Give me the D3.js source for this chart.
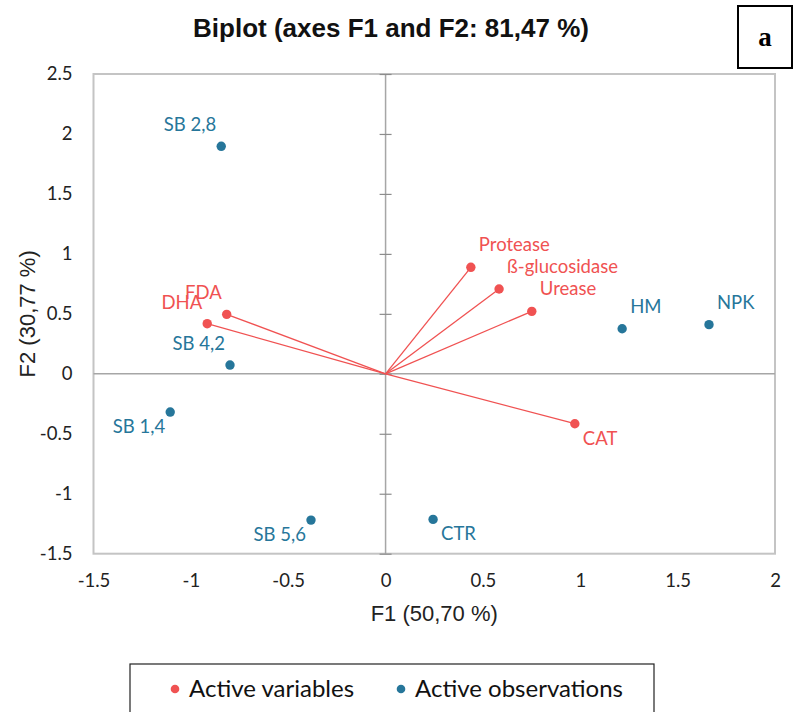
<!DOCTYPE html>
<html>
<head>
<meta charset="utf-8">
<script src="https://cdn.jsdelivr.net/npm/d3@7"></script>
<style>
  html, body { margin: 0; padding: 0; background: #fff; }
  svg { display: block; }
</style>
</head>
<body>
<svg id="chart" width="794" height="712"></svg>
<script>
// PCA biplot: enzyme activities (variables) and fertiliser treatments (observations)
const variableNames = ["Protease", "ß-glucosidase", "Urease", "CAT", "FDA", "DHA"];
const variableF1 = [0.438, 0.583, 0.751, 0.972, -0.816, -0.916];
const variableF2 = [0.888, 0.707, 0.521, -0.416, 0.496, 0.418];

const observationNames = ["SB 2,8", "SB 4,2", "SB 1,4", "SB 5,6", "CTR", "HM", "NPK"];
const observationF1 = [-0.844, -0.799, -1.106, -0.383, 0.244, 1.215, 1.661];
const observationF2 = [1.897, 0.073, -0.319, -1.220, -1.214, 0.376, 0.410];

const xTicks = [-1.5, -1, -0.5, 0, 0.5, 1, 1.5, 2];
const yTicks = [-1.5, -1, -0.5, 0, 0.5, 1, 1.5, 2, 2.5];
const xTickLabels = ["-1.5", "-1", "-0.5", "0", "0.5", "1", "1.5", "2"];
const yTickLabels = ["-1.5", "-1", "-0.5", "0", "0.5", "1", "1.5", "2", "2.5"];

const chartTitle = "Biplot (axes F1 and F2: 81,47 %)";
const xTitle = "F1 (50,70 %)";
const yTitle = "F2 (30,77 %)";
const panelLetter = "a";
const legendLabels = ["Active variables", "Active observations"];

// label placement around each point: ne / nw / se / sw
const variablePlacement = ["ne", "ne", "ne", "se", "nw", "nw"];
const observationPlacement = ["nw", "nw", "sw", "sw", "se", "ne", "ne"];

const RED = "#f05252";
const BLUE = "#26769a";
const LABEL_FONT = "Lato, 'Open Sans', sans-serif";
const TITLE_FONT = "'Liberation Sans', Arial, sans-serif";

const svg = d3.select("#chart");
const plot = { left: 93.5, right: 775, top: 74, bottom: 553.7 };

const x = d3.scaleLinear().domain([-1.5, 2]).range([plot.left, plot.right]);
const y = d3.scaleLinear().domain([-1.5, 2.5]).range([plot.bottom, plot.top]);

// plot frame
svg.append("rect")
  .attr("x", plot.left).attr("y", plot.top)
  .attr("width", plot.right - plot.left).attr("height", plot.bottom - plot.top)
  .attr("fill", "none").attr("stroke", "#c4c4c4").attr("stroke-width", 2);

// zero lines
svg.append("line")
  .attr("x1", plot.left).attr("x2", plot.right)
  .attr("y1", y(0)).attr("y2", y(0))
  .attr("stroke", "#a6a6a6").attr("stroke-width", 1.5);
svg.append("line")
  .attr("x1", x(0)).attr("x2", x(0))
  .attr("y1", plot.top).attr("y2", plot.bottom)
  .attr("stroke", "#a6a6a6").attr("stroke-width", 1.5);

// tick marks crossing the vertical zero line
const crossTicks = svg.append("g")
  .attr("transform", `translate(${x(0) - 6},0)`)
  .call(d3.axisRight(y).tickValues(yTicks).tickSize(12).tickFormat(""));
crossTicks.select(".domain").remove();
crossTicks.selectAll(".tick line").attr("stroke", "#8c8c8c").attr("stroke-width", 1.2);

// y tick labels
const yAxis = svg.append("g")
  .attr("transform", `translate(${plot.left},0)`)
  .call(d3.axisLeft(y).tickValues(yTicks).tickSize(0).tickPadding(21)
    .tickFormat((d, i) => yTickLabels[i]));
yAxis.select(".domain").remove();
yAxis.selectAll("text")
  .attr("font-family", LABEL_FONT).attr("font-size", 18.5).attr("fill", "#222");

// x tick labels
const xAxis = svg.append("g")
  .attr("transform", `translate(0,${plot.bottom})`)
  .call(d3.axisBottom(x).tickValues(xTicks).tickSize(0).tickPadding(20)
    .tickFormat((d, i) => xTickLabels[i]));
xAxis.select(".domain").remove();
xAxis.selectAll("text")
  .attr("font-family", LABEL_FONT).attr("font-size", 18.5).attr("fill", "#222");

// axis titles
svg.append("text")
  .attr("x", (plot.left + plot.right) / 2).attr("y", 621)
  .attr("text-anchor", "middle")
  .attr("font-family", TITLE_FONT)
  .attr("font-size", 22).attr("fill", "#222")
  .text(xTitle);
svg.append("text")
  .attr("transform", `translate(35,${(plot.top + plot.bottom) / 2}) rotate(-90)`)
  .attr("text-anchor", "middle")
  .attr("font-family", TITLE_FONT)
  .attr("font-size", 22).attr("fill", "#222")
  .text(yTitle);

// title
svg.append("text")
  .attr("x", 391).attr("y", 37)
  .attr("text-anchor", "middle")
  .attr("font-family", TITLE_FONT)
  .attr("font-weight", "bold").attr("font-size", 26).attr("fill", "#111")
  .text(chartTitle);

// panel letter box
svg.append("rect")
  .attr("x", 738).attr("y", 6).attr("width", 54).attr("height", 62)
  .attr("fill", "#fff").attr("stroke", "#000").attr("stroke-width", 2);
svg.append("text")
  .attr("x", 765).attr("y", 46)
  .attr("text-anchor", "middle")
  .attr("font-family", "'Liberation Serif', 'Times New Roman', serif")
  .attr("font-weight", "bold").attr("font-size", 27).attr("fill", "#000")
  .text(panelLetter);

// label offsets per placement
const offsets = {
  ne: { dx: 8, dy: -16, anchor: "start" },
  nw: { dx: -5, dy: -15, anchor: "end" },
  se: { dx: 8, dy: 21, anchor: "start" },
  sw: { dx: -5, dy: 20.5, anchor: "end" }
};

const variables = variableNames.map((name, i) => ({
  name, f1: variableF1[i], f2: variableF2[i], place: variablePlacement[i]
}));
const observations = observationNames.map((name, i) => ({
  name, f1: observationF1[i], f2: observationF2[i], place: observationPlacement[i]
}));

// variable vectors
svg.append("g").selectAll("line")
  .data(variables).join("line")
  .attr("x1", x(0)).attr("y1", y(0))
  .attr("x2", d => x(d.f1)).attr("y2", d => y(d.f2))
  .attr("stroke", RED).attr("stroke-width", 1.3);

// observation points
svg.append("g").selectAll("circle")
  .data(observations).join("circle")
  .attr("cx", d => x(d.f1)).attr("cy", d => y(d.f2))
  .attr("r", 4.7).attr("fill", BLUE);

// variable points
svg.append("g").selectAll("circle")
  .data(variables).join("circle")
  .attr("cx", d => x(d.f1)).attr("cy", d => y(d.f2))
  .attr("r", 4.7).attr("fill", RED);

// labels
function drawLabels(data, color) {
  svg.append("g").selectAll("text")
    .data(data).join("text")
    .attr("x", d => x(d.f1) + offsets[d.place].dx)
    .attr("y", d => y(d.f2) + offsets[d.place].dy)
    .attr("text-anchor", d => offsets[d.place].anchor)
    .attr("font-family", LABEL_FONT)
    .attr("font-size", 18.5)
    .attr("fill", color)
    .text(d => d.name);
}
drawLabels(observations, BLUE);
drawLabels(variables, RED);

// legend
const legend = svg.append("g");
legend.append("rect")
  .attr("x", 130).attr("y", 664).attr("width", 524).attr("height", 60)
  .attr("fill", "#fff").attr("stroke", "#222").attr("stroke-width", 1.2);
const legendItems = [
  { label: legendLabels[0], color: RED, cx: 175 },
  { label: legendLabels[1], color: BLUE, cx: 401 }
];
legendItems.forEach(item => {
  legend.append("circle")
    .attr("cx", item.cx).attr("cy", 689).attr("r", 4.3).attr("fill", item.color);
  legend.append("text")
    .attr("x", item.cx + 14).attr("y", 697)
    .attr("font-family", LABEL_FONT)
    .attr("font-size", 24).attr("fill", "#111")
    .text(item.label);
});
</script>
</body>
</html>
